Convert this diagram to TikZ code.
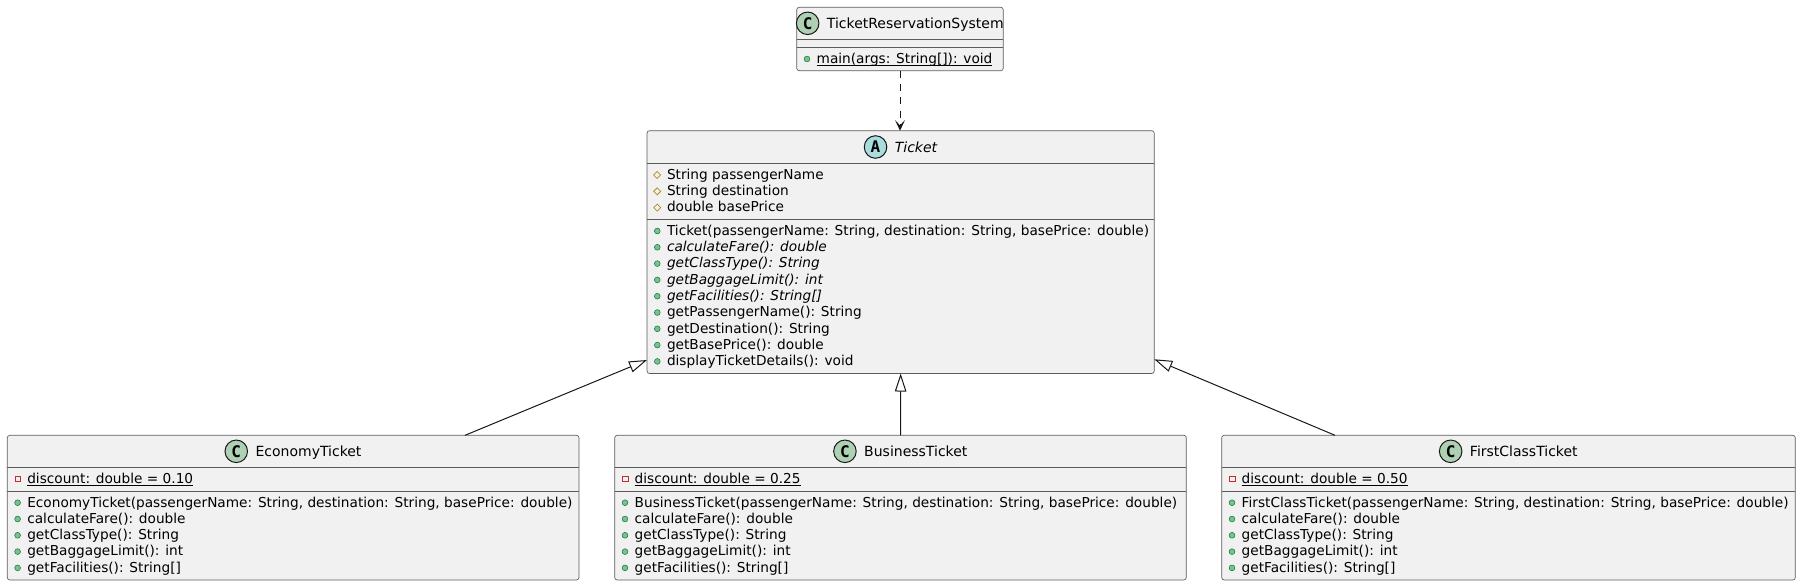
\documentclass[tikz,border=0pt]{standalone}
\usepackage{fontspec}
\setmainfont{DejaVu Sans}
\newfontfamily\circfont{DejaVu Sans Mono}
\usetikzlibrary{arrows.meta,calc}
\definecolor{boxfill}{HTML}{F1F1F1}
\definecolor{boxline}{HTML}{181818}
\definecolor{bordgray}{HTML}{5C5C5C}
\definecolor{cfill}{HTML}{ADD1B2}
\definecolor{afill}{HTML}{A9DCDF}
\definecolor{pubfill}{HTML}{84BE84}
\definecolor{publine}{HTML}{038048}
\definecolor{protline}{HTML}{B38D22}
\definecolor{privline}{HTML}{C82930}
% class box: name, left, top, right, bottom
\newcommand\umlbox[5]{\node[classbox, minimum width={(#4-#2)*0.75pt}, minimum height={(#5-#3)*0.75pt}] (#1) at (#2,#3) {};}
% separator: left, right, y
\newcommand\umlsep[3]{\draw[sepline] (#1,#3) -- (#2,#3);}
% header: name, cx, cy, letter, fill, text
\newcommand\umlhead[6]{%
  \node[ntext, anchor=base] (#1) at (#2+15.3,#3+5) {#6};
  \node[letterc, fill=#5] (#1-c) at ($(#1.base west)+(-19.3,-5)$) {#4};}
% public method: name, boxleft, baseline, text
\newcommand\pubm[4]{%
  \node[mtext] (#1) at (#2+20,#3) {#4};
  \filldraw[fill=pubfill, draw=publine, line width=0.4pt] (#2+10.3,#3-4.3) circle[radius=2.9];}
% protected field
\newcommand\protf[4]{%
  \node[mtext] (#1) at (#2+20,#3) {#4};
  \draw[protline, line width=0.55pt] (#2+6.7,#3-4.3) -- (#2+10.2,#3-7.8) -- (#2+13.7,#3-4.3) -- (#2+10.2,#3-0.8) -- cycle;}
% private static field
\newcommand\privf[4]{%
  \node[mtext] (#1) at (#2+20,#3) {#4};
  \draw[privline, line width=0.6pt] (#2+8.1,#3-7.1) rectangle (#2+13.5,#3-1.7);}
\newcommand\ul[1]{\draw[line width=0.75pt, black] ([yshift=-2pt]#1.base west) -- ([yshift=-2pt]#1.base east);}
\begin{document}
\begin{tikzpicture}[x=0.75pt,y=-0.75pt,
  classbox/.style={draw=bordgray, fill=boxfill, line width=0.5pt, rounded corners=1.9pt, inner sep=0pt, outer sep=0pt, anchor=north west},
  sepline/.style={draw=bordgray, line width=0.5pt},
  mtext/.style={inner sep=0pt, outer sep=0pt, anchor=base west, font=\fontsize{10.26}{12}\selectfont},
  ntext/.style={inner sep=0pt, outer sep=0pt, font=\fontsize{10.5}{12}\selectfont},
  letterc/.style={circle, draw=boxline, line width=0.75pt, minimum size=16.9pt, inner sep=0pt, font=\circfont\bfseries\fontsize{12}{12}\selectfont},
  inherit/.style={draw=boxline, line width=0.75pt, -{Triangle[open, length=13.5pt, width=8.6pt]}},
  depend/.style={draw=boxline, line width=0.75pt, dash pattern=on 5.2pt off 4.8pt, -{Stealth[length=8pt, width=7.5pt, inset=4pt]}}
]
\useasboundingbox (0,0) rectangle (1801,586);

% ---- TicketReservationSystem
\umlbox{trs}{796.7}{7.3}{1003.3}{70.7}
\umlsep{796.7}{1003.3}{39.3}
\umlsep{796.7}{1003.3}{47.7}
\umlhead{trsn}{900}{23.3}{C}{cfill}{TicketReservationSystem}
\pubm{trsm1}{796.7}{63.3}{main(args: String[]): void}
\ul{trsm1}

% ---- Ticket
\umlbox{tkt}{647}{130.7}{1154.3}{373.5}
\umlsep{647}{1154.3}{163.3}
\umlsep{647}{1154.3}{219.3}
\umlhead{tktn}{900.7}{147}{A}{afill}{\itshape Ticket}
\protf{tka1}{647}{179.3}{String passengerName}
\protf{tka2}{647}{195.6}{String destination}
\protf{tka3}{647}{211.9}{double basePrice}
\pubm{tkm1}{647}{235.3}{Ticket(passengerName: String, destination: String, basePrice: double)}
\pubm{tkm2}{647}{251.6}{\itshape calculateFare(): double}
\pubm{tkm3}{647}{267.9}{\itshape getClassType(): String}
\pubm{tkm4}{647}{284.2}{\itshape getBaggageLimit(): int}
\pubm{tkm5}{647}{300.5}{\itshape getFacilities(): String[]}
\pubm{tkm6}{647}{316.8}{getPassengerName(): String}
\pubm{tkm7}{647}{333.1}{getDestination(): String}
\pubm{tkm8}{647}{349.4}{getBasePrice(): double}
\pubm{tkm9}{647}{365.7}{displayTicketDetails(): void}

% ---- EconomyTicket
\umlbox{eco}{7.3}{435.3}{579}{580}
\umlsep{7.3}{579}{467.3}
\umlsep{7.3}{579}{491}
\umlhead{econ}{293.2}{451.3}{C}{cfill}{EconomyTicket}
\privf{eca1}{7.3}{483.3}{discount: double = 0.10}
\ul{eca1}
\pubm{ecm1}{7.3}{507}{EconomyTicket(passengerName: String, destination: String, basePrice: double)}
\pubm{ecm2}{7.3}{523.3}{calculateFare(): double}
\pubm{ecm3}{7.3}{539.6}{getClassType(): String}
\pubm{ecm4}{7.3}{555.9}{getBaggageLimit(): int}
\pubm{ecm5}{7.3}{572.2}{getFacilities(): String[]}

% ---- BusinessTicket
\umlbox{biz}{614.7}{435.3}{1186.3}{580}
\umlsep{614.7}{1186.3}{467.3}
\umlsep{614.7}{1186.3}{491}
\umlhead{bizn}{900.5}{451.3}{C}{cfill}{BusinessTicket}
\privf{bza1}{614.7}{483.3}{discount: double = 0.25}
\ul{bza1}
\pubm{bzm1}{614.7}{507}{BusinessTicket(passengerName: String, destination: String, basePrice: double)}
\pubm{bzm2}{614.7}{523.3}{calculateFare(): double}
\pubm{bzm3}{614.7}{539.6}{getClassType(): String}
\pubm{bzm4}{614.7}{555.9}{getBaggageLimit(): int}
\pubm{bzm5}{614.7}{572.2}{getFacilities(): String[]}

% ---- FirstClassTicket
\umlbox{fct}{1221.7}{435.3}{1795.3}{580}
\umlsep{1221.7}{1795.3}{467.3}
\umlsep{1221.7}{1795.3}{491}
\umlhead{fctn}{1508.5}{451.3}{C}{cfill}{FirstClassTicket}
\privf{fca1}{1221.7}{483.3}{discount: double = 0.50}
\ul{fca1}
\pubm{fcm1}{1221.7}{507}{FirstClassTicket(passengerName: String, destination: String, basePrice: double)}
\pubm{fcm2}{1221.7}{523.3}{calculateFare(): double}
\pubm{fcm3}{1221.7}{539.6}{getClassType(): String}
\pubm{fcm4}{1221.7}{555.9}{getBaggageLimit(): int}
\pubm{fcm5}{1221.7}{572.2}{getFacilities(): String[]}

% ---- connectors
\coordinate (ecoTop) at ($(eco.north west)+(457.7,0)$);
\coordinate (tktL) at ($(tkt.north west)+(0,229.3)$);
\coordinate (fcTop) at ($(fct.north west)+(113.3,0)$);
\coordinate (tktR) at ($(tkt.north east)+(0,228.6)$);
\draw[depend] (trs.south) -- (trs.south |- tkt.north);
\draw[inherit] (ecoTop) -- (tktL);
\draw[inherit] (biz.north) -- (tkt.south);
\draw[inherit] (fcTop) -- (tktR);
\end{tikzpicture}
\end{document}
